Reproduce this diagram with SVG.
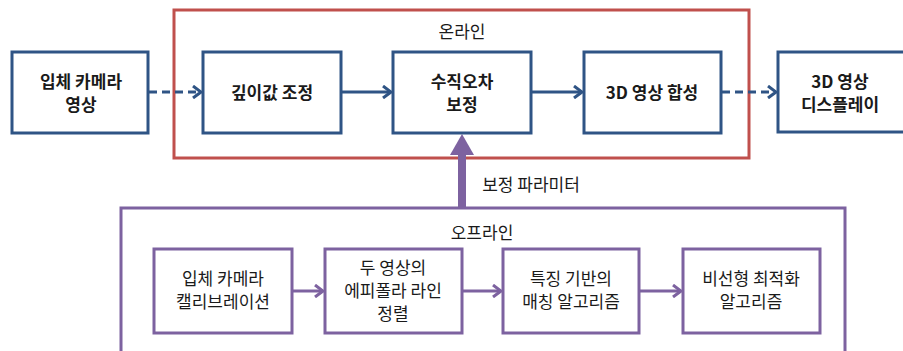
<svg xmlns="http://www.w3.org/2000/svg" width="903" height="351" viewBox="0 0 903 351">
<defs>
<style>
text{font-family:"Noto Sans CJK KR","Noto Sans",sans-serif;font-size:17px;fill:#1a1a1a;text-anchor:middle}
.b{font-weight:bold}
.blue{fill:#fff;stroke:#2F5485;stroke-width:3}
.pur{fill:#fff;stroke:#7D62A0;stroke-width:3}
.cb{stroke:#2F5485;stroke-width:3;fill:none}
.cp{stroke:#7D62A0;stroke-width:3;fill:none}
</style>
<marker id="ab" markerWidth="12" markerHeight="14" refX="10" refY="7" orient="auto" markerUnits="userSpaceOnUse"><path d="M2,1 L10,7 L2,13" fill="none" stroke="#2F5485" stroke-width="3"/></marker>
<marker id="ap" markerWidth="12" markerHeight="14" refX="10" refY="7" orient="auto" markerUnits="userSpaceOnUse"><path d="M2,1 L10,7 L2,13" fill="none" stroke="#7D62A0" stroke-width="3"/></marker>
</defs>
<rect width="903" height="351" fill="#fff"/>
<g id="online">
<rect x="174" y="10" width="575" height="148" fill="none" stroke="#C0504D" stroke-width="3"/>
<text x="462" y="38">온라인</text>
</g>
<g id="offline">
<rect x="121" y="208" width="724" height="160" fill="none" stroke="#7D62A0" stroke-width="3"/>
<text x="482" y="239">오프라인</text>
</g>
<g id="connectors">
<line x1="149" y1="92" x2="201" y2="92" class="cb" stroke-dasharray="8,5" marker-end="url(#ab)"/>
<line x1="342" y1="92" x2="391" y2="92" class="cb" marker-end="url(#ab)"/>
<line x1="532" y1="92" x2="582" y2="92" class="cb" marker-end="url(#ab)"/>
<line x1="722" y1="92" x2="776" y2="92" class="cb" stroke-dasharray="8,5" marker-end="url(#ab)"/>
<line x1="293" y1="291" x2="323" y2="291" class="cp" marker-end="url(#ap)"/>
<line x1="463" y1="291" x2="501" y2="291" class="cp" marker-end="url(#ap)"/>
<line x1="640" y1="291" x2="681" y2="291" class="cp" marker-end="url(#ap)"/>
<line x1="462" y1="207" x2="462" y2="152" stroke="#7D62A0" stroke-width="8"/>
<polygon points="450,155 474,155 462,134" fill="#7D62A0"/>
<text x="531" y="191">보정 파라미터</text>
</g>
<g id="n1"><rect x="12" y="52" width="136" height="81" class="blue"/><text class="b" x="81" y="88">입체 카메라</text><text class="b" x="81" y="111">영상</text></g>
<g id="n2"><rect x="203" y="52" width="138" height="81" class="blue"/><text class="b" x="272" y="99">깊이값 조정</text></g>
<g id="n3"><rect x="393" y="52" width="138" height="81" class="blue"/><text class="b" x="462" y="88">수직오차</text><text class="b" x="462" y="111">보정</text></g>
<g id="n4"><rect x="584" y="52" width="137" height="81" class="blue"/><text class="b" x="652" y="99">3D 영상 합성</text></g>
<g id="n5"><rect x="778" y="52" width="130" height="80" class="blue"/><text class="b" x="840" y="88">3D 영상</text><text class="b" x="840" y="111">디스플레이</text></g>
<g id="m1"><rect x="154" y="249" width="138" height="84" class="pur"/><text x="223" y="285">입체 카메라</text><text x="223" y="308">캘리브레이션</text></g>
<g id="m2"><rect x="325" y="249" width="137" height="84" class="pur"/><text x="393" y="274">두 영상의</text><text x="393" y="297">에피폴라 라인</text><text x="393" y="320">정렬</text></g>
<g id="m3"><rect x="503" y="249" width="136" height="84" class="pur"/><text x="571" y="285">특징 기반의</text><text x="571" y="308">매칭 알고리즘</text></g>
<g id="m4"><rect x="683" y="249" width="137" height="84" class="pur"/><text x="751" y="285">비선형 최적화</text><text x="751" y="308">알고리즘</text></g>
</svg>
